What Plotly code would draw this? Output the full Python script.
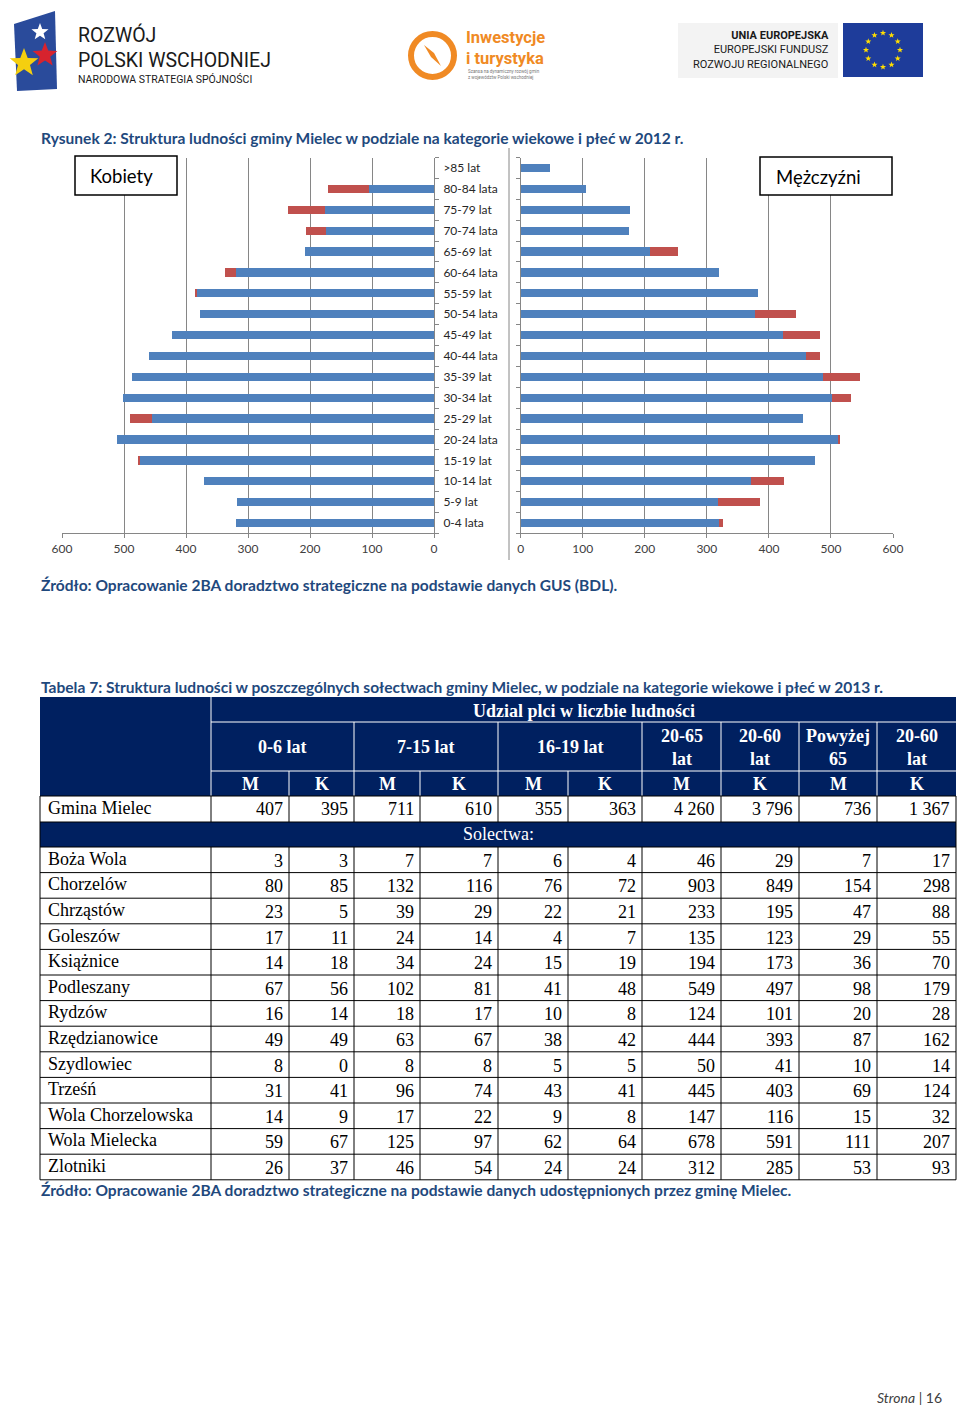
import math
import plotly.graph_objects as go

W, H = 960, 1408


def fx(x):
    return x / W


def fy(y):
    return 1 - y / H


# ---------------- chart data (Rysunek 2) ----------------
age_groups = ["0-4 lata", "5-9 lat", "10-14 lat", "15-19 lat", "20-24 lata", "25-29 lat",
              "30-34 lat", "35-39 lat", "40-44 lata", "45-49 lat", "50-54 lata", "55-59 lat",
              "60-64 lata", "65-69 lat", "70-74 lata", "75-79 lat", "80-84 lata", ">85 lat"]
women_base = [319, 318, 371, 475, 512, 455, 501, 487, 459, 422, 377, 383, 320, 208, 174, 176, 105, 0]
women_excess = [0, 0, 0, 3, 0, 36, 0, 0, 0, 0, 0, 3, 17, 0, 32, 59, 66, 0]
men_base = [320, 318, 371, 474, 512, 455, 501, 487, 459, 422, 377, 383, 320, 208, 174, 176, 105, 48]
men_excess = [6, 68, 53, 0, 1, 0, 32, 60, 23, 60, 67, 0, 0, 46, 0, 0, 0, 0]
axis_ticks = [0, 100, 200, 300, 400, 500, 600]

# ---------------- table data (Tabela 7) ----------------
group_headers = ["0-6 lat", "7-15 lat", "16-19 lat", "20-65<br>lat", "20-60<br>lat", "Powyżej<br>65", "20-60<br>lat"]
group_spans = [2, 2, 2, 1, 1, 1, 1]
sex_headers = ["M", "K", "M", "K", "M", "K", "M", "K", "M", "K"]
gmina_total = [407, 395, 711, 610, 355, 363, 4260, 3796, 736, 1367]
villages = ["Boża Wola", "Chorzelów", "Chrząstów", "Goleszów", "Książnice", "Podleszany", "Rydzów",
            "Rzędzianowice", "Szydlowiec", "Trześń", "Wola Chorzelowska", "Wola Mielecka", "Zlotniki"]
m_0_6 = [3, 80, 23, 17, 14, 67, 16, 49, 8, 31, 14, 59, 26]
k_0_6 = [3, 85, 5, 11, 18, 56, 14, 49, 0, 41, 9, 67, 37]
m_7_15 = [7, 132, 39, 24, 34, 102, 18, 63, 8, 96, 17, 125, 46]
k_7_15 = [7, 116, 29, 14, 24, 81, 17, 67, 8, 74, 22, 97, 54]
m_16_19 = [6, 76, 22, 4, 15, 41, 10, 38, 5, 43, 9, 62, 24]
k_16_19 = [4, 72, 21, 7, 19, 48, 8, 42, 5, 41, 8, 64, 24]
m_20_65 = [46, 903, 233, 135, 194, 549, 124, 444, 50, 445, 147, 678, 312]
k_20_60 = [29, 849, 195, 123, 173, 497, 101, 393, 41, 403, 116, 591, 285]
m_65plus = [7, 154, 47, 29, 36, 98, 20, 87, 10, 69, 15, 111, 53]
k_60plus = [17, 298, 88, 55, 70, 179, 28, 162, 14, 124, 32, 207, 93]

BLUE = "#4F81BD"
RED = "#C0504D"
GRID = "#868686"
NAVY = "#002060"
CAPTION = "#1F497D"
SANS = "Lato"
SERIF = "Liberation Serif"

fig = go.Figure()

fig.add_trace(go.Bar(y=age_groups, x=women_base, orientation="h", marker=dict(color=BLUE, line=dict(width=0)),
                     xaxis="x", yaxis="y", showlegend=False, hoverinfo="skip"))
fig.add_trace(go.Bar(y=age_groups, x=women_excess, orientation="h", marker=dict(color=RED, line=dict(width=0)),
                     xaxis="x", yaxis="y", showlegend=False, hoverinfo="skip"))
fig.add_trace(go.Bar(y=age_groups, x=men_base, orientation="h", marker=dict(color=BLUE, line=dict(width=0)),
                     xaxis="x2", yaxis="y2", showlegend=False, hoverinfo="skip"))
fig.add_trace(go.Bar(y=age_groups, x=men_excess, orientation="h", marker=dict(color=RED, line=dict(width=0)),
                     xaxis="x2", yaxis="y2", showlegend=False, hoverinfo="skip"))

ydom = [fy(533.4), fy(157.6)]
xcommon = dict(tickvals=axis_ticks, showgrid=True, gridcolor=GRID, gridwidth=1, zeroline=False,
               showline=True, linecolor=GRID, linewidth=1, ticks="outside", ticklen=4, tickcolor=GRID,
               tickfont=dict(family=SANS, size=12, color="#404040"), fixedrange=True, automargin=False)
ycommon = dict(type="category", categoryorder="array", categoryarray=age_groups, range=[-0.5, 17.5],
               showline=True, linecolor=GRID, linewidth=1, ticks="outside", tickson="boundaries",
               ticklen=4, tickcolor=GRID, showgrid=False, zeroline=False, domain=ydom, fixedrange=True,
               automargin=False)

fig.update_layout(
    template="none",
    width=W, height=H, autosize=False, margin=dict(l=0, r=0, t=0, b=0, pad=0),
    paper_bgcolor="white", plot_bgcolor="rgba(0,0,0,0)",
    font=dict(family=SANS, color="#262626"), barmode="stack", bargap=0.6,
    xaxis=dict(domain=[fx(62), fx(434)], range=[600, 0], anchor="y", **xcommon),
    yaxis=dict(anchor="x", side="right", tickfont=dict(family=SANS, size=12, color="#262626"),
               ticklabelstandoff=6, **ycommon),
    xaxis2=dict(domain=[fx(520.7), fx(893)], range=[0, 600], anchor="y2", **xcommon),
    yaxis2=dict(anchor="x2", side="left", showticklabels=False, **ycommon),
)

shapes = []
annotations = []


def line(x0, y0, x1, y1, color, width=1, layer="above"):
    shapes.append(dict(type="line", xref="paper", yref="paper", x0=fx(x0), y0=fy(y0), x1=fx(x1), y1=fy(y1),
                       line=dict(color=color, width=width), layer=layer))


def rect(x0, y0, x1, y1, fill, color=None, width=0, layer="above"):
    shapes.append(dict(type="rect", xref="paper", yref="paper", x0=fx(x0), y0=fy(y0), x1=fx(x1), y1=fy(y1),
                       fillcolor=fill, line=dict(color=color or fill, width=width), layer=layer))


def star(cx, cy, r, fill):
    pts = []
    for i in range(10):
        a = math.pi * i / 5
        rr = r if i % 2 == 0 else r * 0.42
        pts.append((cx + rr * math.sin(a), cy - rr * math.cos(a)))
    path = "M " + " L ".join("{:.5f},{:.5f}".format(fx(px), fy(py)) for px, py in pts) + " Z"
    shapes.append(dict(type="path", xref="paper", yref="paper", path=path, fillcolor=fill,
                       line=dict(width=0), layer="above"))


def text(x, y, s, size, color="#000000", xanchor="left", family=SANS, yanchor="middle", align="left"):
    annotations.append(dict(x=fx(x), y=fy(y), xref="paper", yref="paper", text=s, showarrow=False,
                            xanchor=xanchor, yanchor=yanchor, align=align,
                            font=dict(family=family, size=size, color=color), borderpad=0))


# ---------------- header logos ----------------
shapes.append(dict(type="path", xref="paper", yref="paper", layer="above",
                   path="M {},{} L {},{} L {},{} L {},{} Z".format(fx(14), fy(24), fx(55), fy(11), fx(57), fy(89), fx(17), fy(91)),
                   fillcolor="#2A4B9B", line=dict(width=0)))
star(40, 32, 9, "#FFFFFF")
star(45, 55, 13, "#D7232E")
star(24, 63, 15, "#F5CF0F")
text(77, 48, "ROZWÓJ<br>POLSKI WSCHODNIEJ", 19.5, "#1A1A1A", family="Roboto")
text(77, 80, "NARODOWA STRATEGIA SPÓJNOŚCI", 10.5, "#1A1A1A", family="Roboto")

shapes.append(dict(type="circle", xref="paper", yref="paper", x0=fx(411), y0=fy(34), x1=fx(454), y1=fy(77),
                   line=dict(color="#F08A24", width=6), fillcolor="rgba(0,0,0,0)", layer="above"))
shapes.append(dict(type="path", xref="paper", yref="paper", layer="above",
                   path="M {},{} L {},{} L {},{} L {},{} Z".format(fx(424), fy(45), fx(434), fy(53), fx(441), fy(66), fx(431), fy(57)),
                   fillcolor="#F08A24", line=dict(width=0)))
text(465, 48, "<b>Inwestycje<br>i turystyka</b>", 16.5, "#F08A24", family="Roboto")
text(467, 74, "Szansa na dynamiczny rozwój gmin<br>z województw Polski wschodniej", 4.5, "#777777", family="Roboto")

rect(678, 23, 838, 78, "#F3F3F3")
text(830, 50, "<b>UNIA EUROPEJSKA</b><br>EUROPEJSKI FUNDUSZ<br>ROZWOJU REGIONALNEGO", 11, "#1A1A1A", "right",
     family="Roboto", align="right")
rect(843, 23, 923, 77, "#1E3C9A")
for i in range(12):
    a = 2 * math.pi * i / 12
    star(883 + 17 * math.sin(a), 50 - 17 * math.cos(a), 3.2, "#FFDD00")

# ---------------- figure caption and chart extras ----------------
CAP = 15.55
text(40, 138, "<b>Rysunek 2: Struktura ludności gminy Mielec w podziale na kategorie wiekowe i płeć w 2012 r.</b>",
     CAP, CAPTION)
line(509, 148, 509, 560, GRID)
rect(75, 156, 177, 195, "white", "#000000", 1.5)
text(89, 176, "Kobiety", 18.5, "#000000")
rect(760, 157, 892, 195, "white", "#000000", 1.5)
text(775, 177, "Mężczyźni", 18.5, "#000000")
text(40, 585, "<b>Źródło: Opracowanie 2BA doradztwo strategiczne na podstawie danych GUS (BDL).</b>", CAP, CAPTION)

# ---------------- table ----------------
text(40, 687, "<b>Tabela 7: Struktura ludności w poszczególnych sołectwach gminy Mielec, w podziale na kategorie wiekowe i płeć w 2013 r.</b>",
     CAP, CAPTION)

col_edges = [40, 211, 289, 354, 420, 498, 568, 642, 721, 799, 877, 956]
T_TOP, R1, R2, R3 = 697, 722, 771, 796
R_GM, R_SOL = 822, 847
ROW_H = 25.6

rect(col_edges[0], T_TOP, col_edges[-1], R3, NAVY)
rect(col_edges[0], R_GM, col_edges[-1], R_SOL, NAVY)

# header white separators
line(211, T_TOP, 211, R3, "white", 1)
line(211, R1, 956, R1, "white", 1)
line(211, R2, 956, R2, "white", 1)
k = 1
for span in group_spans[:-1]:
    k += span
    line(col_edges[k], R1, col_edges[k], R2, "white", 1)
for e in col_edges[2:-1]:
    line(e, R2, e, R3, "white", 1)

text(583.5, 711, "<b>Udzial plci w liczbie ludności</b>", 18, "white", "center", SERIF)
k = 1
for lbl, span in zip(group_headers, group_spans):
    cx = (col_edges[k] + col_edges[k + span]) / 2
    text(cx, 747, "<b>" + lbl + "</b>", 18, "white", "center", SERIF, align="center")
    k += span
for i, lbl in enumerate(sex_headers):
    cx = (col_edges[i + 1] + col_edges[i + 2]) / 2
    text(cx, 784, "<b>" + lbl + "</b>", 18, "white", "center", SERIF)


def fmt(v):
    return "{:,}".format(v).replace(",", " ")


# Gmina row
text(47, 808, "Gmina Mielec", 18, "#000000", "left", SERIF)
for i, v in enumerate(gmina_total):
    text(col_edges[i + 2] - 5, 809, fmt(v), 18, "#000000", "right", SERIF)

text(498, 834, "Solectwa:", 18, "white", "center", SERIF)

columns = [m_0_6, k_0_6, m_7_15, k_7_15, m_16_19, k_16_19, m_20_65, k_20_60, m_65plus, k_60plus]
for r, name in enumerate(villages):
    top = R_SOL + r * ROW_H
    cy = top + ROW_H / 2
    text(47, cy - 1, name, 18, "#000000", "left", SERIF)
    for c, col in enumerate(columns):
        text(col_edges[c + 2] - 5, cy + 1, fmt(col[r]), 18, "#000000", "right", SERIF)

T_BOT = R_SOL + len(villages) * ROW_H
# data grid lines
for y in [R3, R_GM]:
    line(40, y, 956, y, "#000000", 1)
for r in range(len(villages) + 1):
    line(40, R_SOL + r * ROW_H, 956, R_SOL + r * ROW_H, "#000000", 1)
for e in col_edges:
    line(e, R3, e, R_GM, "#000000", 1)
    line(e, R_SOL, e, T_BOT, "#000000", 1)
line(40, R_GM, 40, R_SOL, "#000000", 1)
line(956, R_GM, 956, R_SOL, "#000000", 1)

text(40, 1190, "<b>Źródło: Opracowanie 2BA doradztwo strategiczne na podstawie danych udostępnionych przez gminę Mielec.</b>",
     CAP, CAPTION)

text(943, 1397, "<i>Strona</i> | 16", 14, "#404040", "right")

fig.update_layout(shapes=shapes, annotations=annotations)
fig.write_html(
    "out.html",
    config={"responsive": False, "displayModeBar": False},
    post_script="document.body.style.margin='0';document.body.style.padding='0';"
                "document.body.style.overflow='hidden';document.documentElement.style.overflow='hidden';",
)
